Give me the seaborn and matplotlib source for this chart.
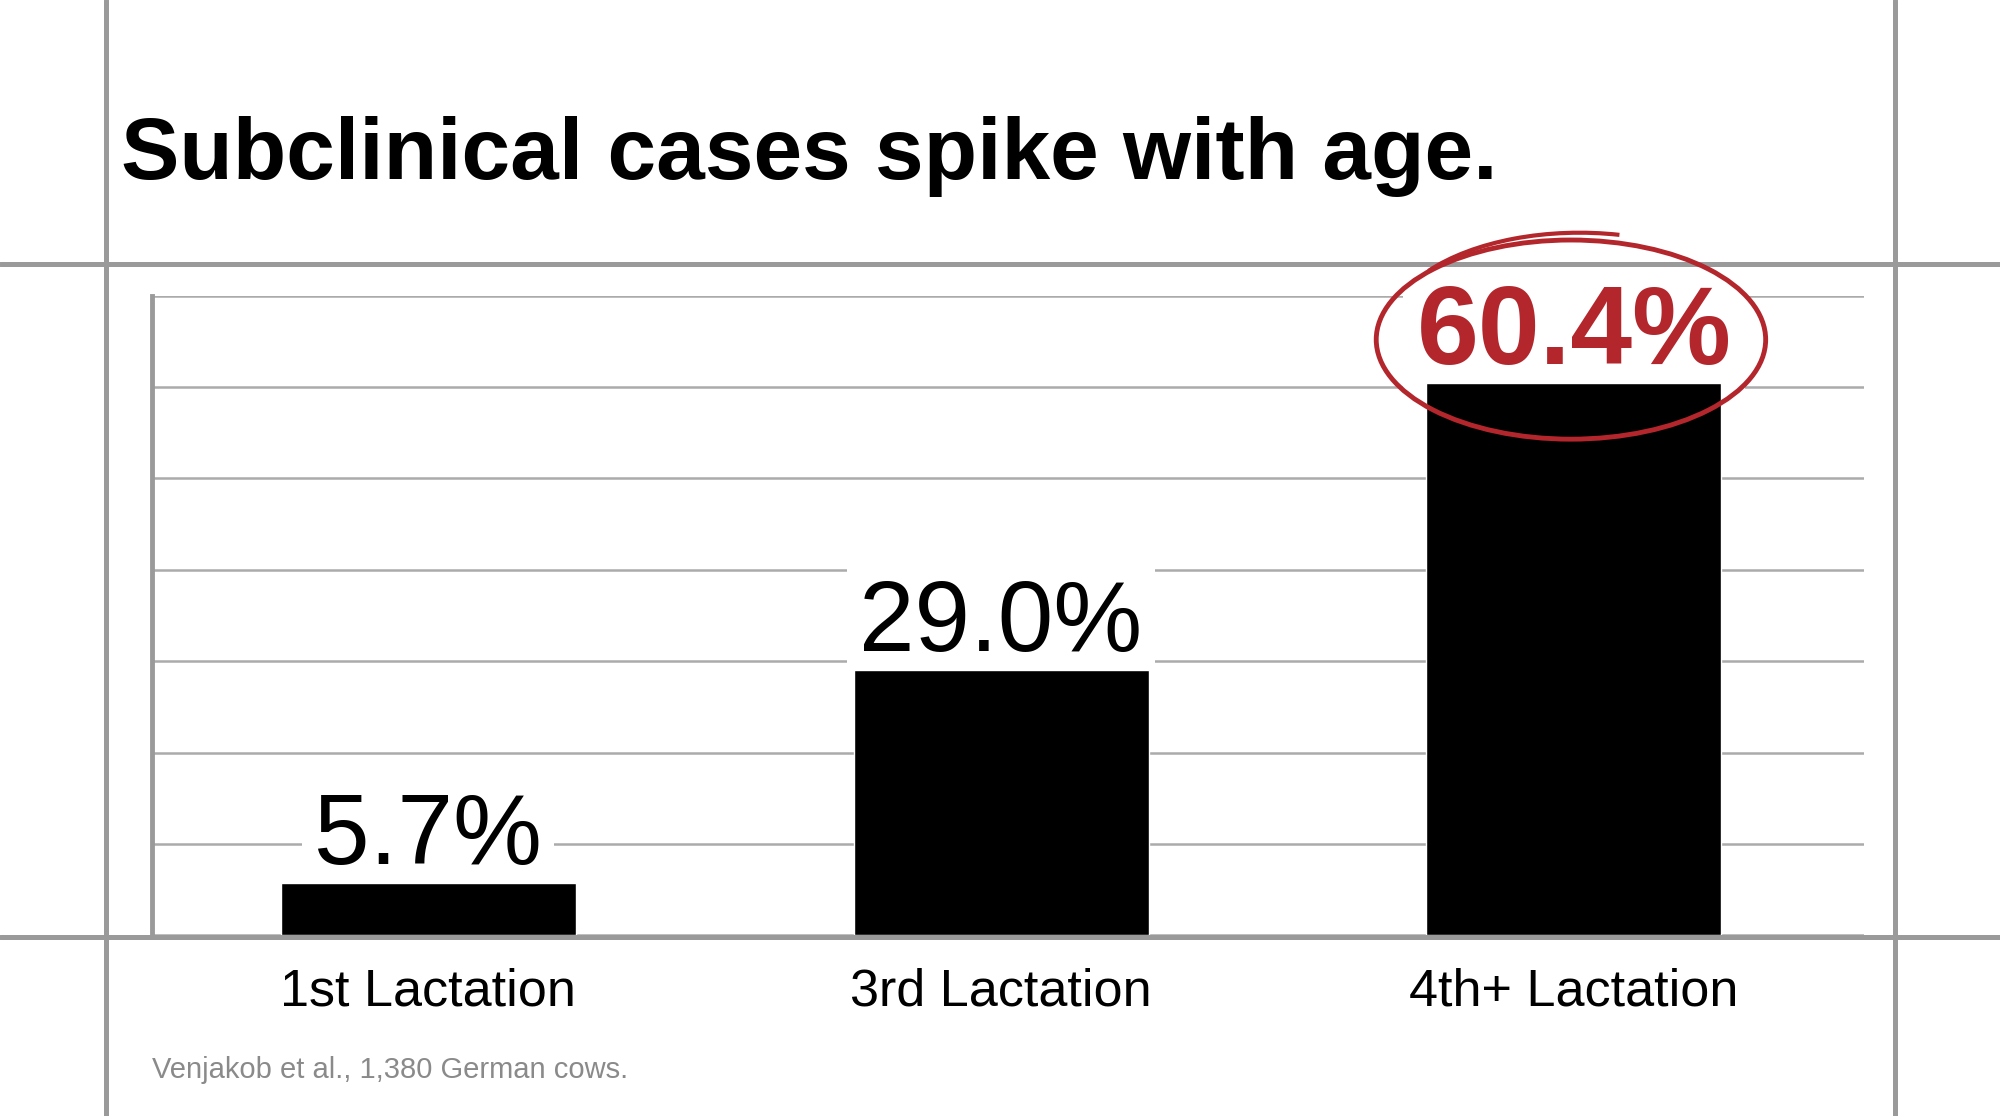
import numpy as np
import pandas as pd
import matplotlib.pyplot as plt
import seaborn as sns
from matplotlib.lines import Line2D
from matplotlib.patches import Ellipse, Arc

# data
lactations = ["1st Lactation", "3rd Lactation", "4th+ Lactation"]
share_pct = [5.7, 29.0, 60.4]
value_labels = ["5.7%", "29.0%", "60.4%"]
highlight = [False, False, True]

title = "Subclinical cases spike with age."
source = "Venjakob et al., 1,380 German cows."

RED = "#b3262c"
FRAME = "#9a9a9a"
GRID = "#ababab"

sns.set_theme(style="white")
plt.rcParams['font.family'] = ['Liberation Sans', 'DejaVu Sans']

df = pd.DataFrame({"lactation": lactations, "share": share_pct})

fig = plt.figure(figsize=(20, 11.16), dpi=100)
ax = fig.add_axes([0.0759, 0.162, 0.8559, 0.573])
ax.patch.set_alpha(0)

sns.barplot(data=df, x="lactation", y="share", color="black", width=0.515,
            saturation=1, ax=ax, zorder=3)

ax.set_ylim(0, 70)
ax.set_xlim(-0.483, 2.506)
ax.set_yticks(range(0, 71, 10))
ax.set_yticklabels([])
ax.yaxis.grid(True, color=GRID, linewidth=1.8)
ax.set_axisbelow(True)
ax.set_xlabel("")
ax.set_ylabel("")
ax.tick_params(axis="x", length=0, pad=23, labelsize=37.5, labelcolor="black")
ax.tick_params(axis="y", length=0)

for side in ["top", "right", "bottom"]:
    ax.spines[side].set_visible(False)
ax.spines["left"].set_color(FRAME)
ax.spines["left"].set_linewidth(3.5)

# value labels with white backing so the gridlines break behind them
for i, (val, lab, hi) in enumerate(zip(share_pct, value_labels, highlight)):
    ax.annotate(lab, (i, val), xytext=(0, 14), textcoords="offset points",
                ha="center", va="baseline",
                fontsize=80 if hi else 72,
                fontweight="bold" if hi else "normal",
                color=RED if hi else "black",
                bbox=dict(boxstyle="square,pad=0.12", fc="white", ec="none"),
                zorder=2)

# hand-drawn style circle round the highlighted value
hi_i = highlight.index(True)
ax.add_patch(Ellipse((hi_i - 0.005, 65.2), 0.68, 21.8, fill=False, ec=RED,
                     lw=3.5, clip_on=False, zorder=6))

# overshoot stroke at the top of the circle; Arc wants geometric angles
# in data space, so convert from the ellipse parameter
arc_w, arc_h = 0.67, 21.8
t1, t2 = np.radians(78), np.radians(142)
th1 = np.degrees(np.arctan2(arc_h * np.sin(t1), arc_w * np.cos(t1)))
th2 = np.degrees(np.arctan2(arc_h * np.sin(t2), arc_w * np.cos(t2)))
ax.add_patch(Arc((hi_i + 0.01, 66.0), arc_w, arc_h, theta1=th1, theta2=th2,
                 ec=RED, lw=3.0, clip_on=False, zorder=6))

# notebook-style frame lines across the whole figure
for x in [0.0529, 0.9477]:
    fig.add_artist(Line2D([x, x], [0, 1], color=FRAME, lw=3.6, zorder=-1))
for y in [0.7634, 0.160]:
    fig.add_artist(Line2D([0, 1], [y, y], color=FRAME, lw=3.6, zorder=-1))

fig.text(0.0606, 0.84, title, fontsize=63, fontweight="bold", color="black",
         ha="left", va="baseline")
fig.text(0.0759, 0.034, source, fontsize=21, color="#8a8a8a",
         ha="left", va="baseline")

fig.savefig("out.png", dpi=100, facecolor="white")
